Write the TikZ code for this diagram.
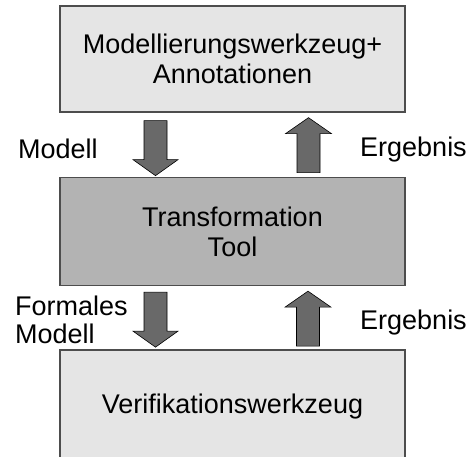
\documentclass[tikz,border=0pt]{standalone}
\usepackage{fontspec}
\setmainfont{Liberation Sans}
\usetikzlibrary{calc}

\definecolor{boxlight}{HTML}{E5E5E5}
\definecolor{boxdark}{HTML}{B3B3B3}
\definecolor{boxedge}{HTML}{4D4D4D}
\definecolor{arrowfill}{HTML}{696969}

\tikzset{
  stage/.style={draw=boxedge, line width=1.3pt, rectangle, minimum width=345pt,
    align=center, inner sep=0pt, font=\fontsize{27}{30}\selectfont},
  lightstage/.style={stage, fill=boxlight},
  darkstage/.style={stage, fill=boxdark},
  flowlabel/.style={inner sep=0pt, align=left, font=\fontsize{27}{28}\selectfont},
  blockshape/.style={fill=arrowfill, draw=black, line width=0.6pt, line join=miter},
  downblock/.pic={
    \path[blockshape] (-11.5,0) -- (11.5,0) -- (11.5,39) -- (22.5,39) -- (0,55)
      -- (-22.5,39) -- (-11.5,39) -- cycle;
  },
  upblock/.pic={
    \path[blockshape] (0,0) -- (23,16) -- (11.5,16) -- (11.5,55) -- (-11.5,55)
      -- (-11.5,16) -- (-23,16) -- cycle;
  }
}

\begin{document}
\begin{tikzpicture}[x=1pt, y=-1pt]
  \useasboundingbox (0,0) rectangle (468,456);
  \clip (0,0) rectangle (468,456);

  % the three tool stages
  \node[lightstage, minimum height=106pt] (model) at (232.5,59)
    {Modellierungswerkzeug+\\Annotationen};
  \node[darkstage, minimum height=108pt] (trans) at (232.5,231.5)
    {Transformation\\Tool};
  \node[lightstage, minimum height=114pt] (verif) at (232.5,407)
    {Verifikationswerkzeug};

  % block arrows between the stages
  \pic at ($(model.south)+(-77,8)$) {downblock};
  \pic at ($(model.south)+(76,5)$) {upblock};
  \pic at ($(trans.south)+(-77,6)$) {downblock};
  \pic at ($(trans.south)+(75.5,5)$) {upblock};

  % labels beside the arrows
  \node[flowlabel, anchor=base west] (lmodel) at (18,158) {Modell};
  \node[flowlabel, anchor=base west] (lres1) at (360,156) {Ergebnis};
  \node[flowlabel, anchor=north west] (lformal) at (15,296) {Formales\\Modell};
  \node[flowlabel, anchor=base west] (lres2) at (360,329) {Ergebnis};
\end{tikzpicture}
\end{document}
